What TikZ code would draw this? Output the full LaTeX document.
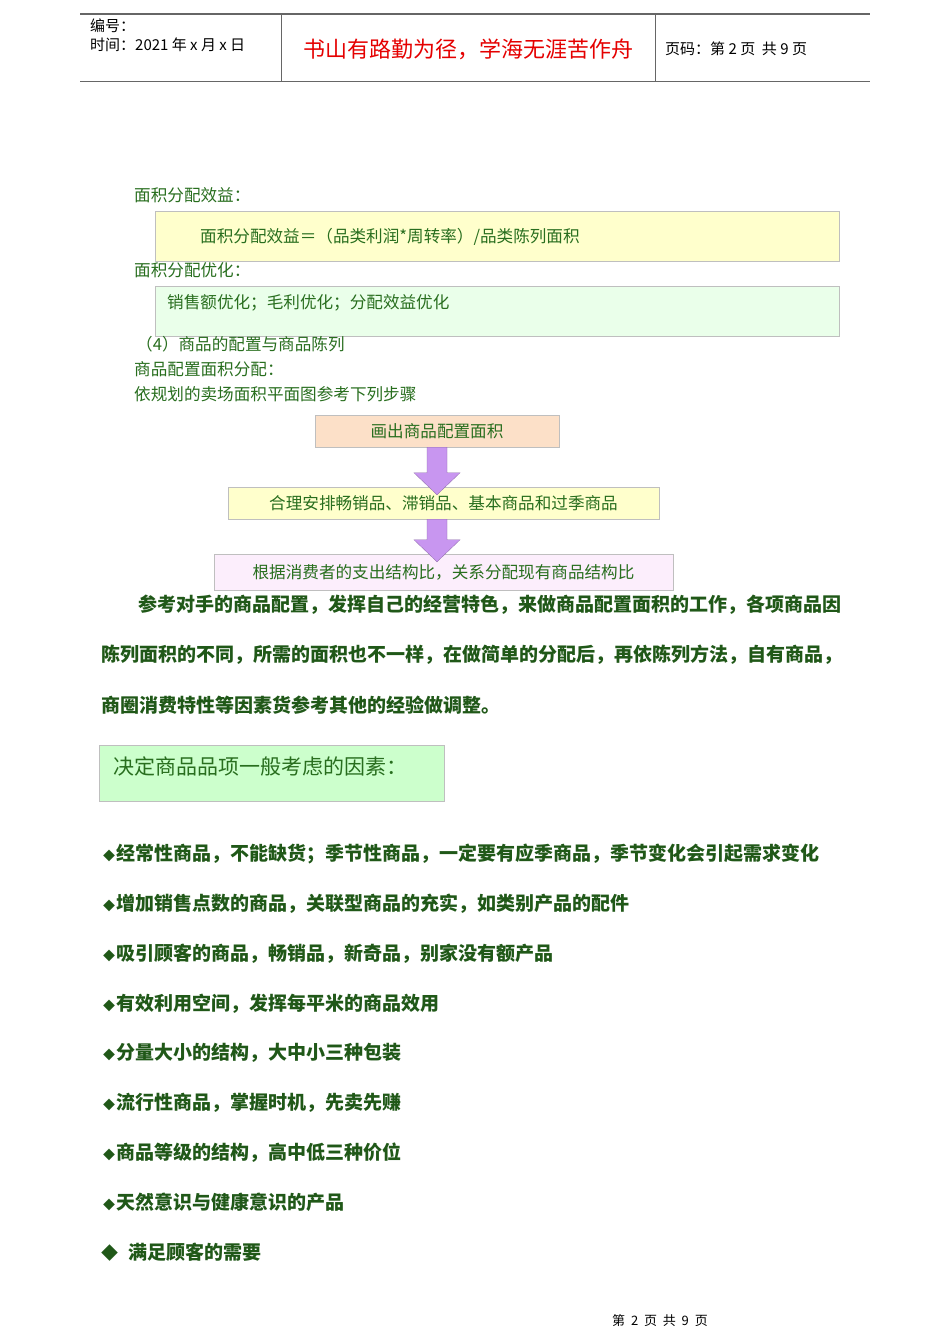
\documentclass[tikz,border=0pt]{standalone}
\usepackage{fontspec}
\setmainfont{Noto Sans CJK SC}
\usepackage{xcolor}
\usetikzlibrary{positioning, calc}
\definecolor{txtgreen}{RGB}{40,110,30}
\definecolor{peach}{RGB}{252,224,200}
\definecolor{lyellow}{RGB}{255,255,204}
\definecolor{lgreen}{RGB}{234,255,234}
\definecolor{lpink}{RGB}{252,238,252}
\definecolor{purplearrow}{RGB}{200,150,240}
\begin{document}
\begin{tikzpicture}[
    x=1pt, y=-1pt,
    plain/.style={anchor=west, inner sep=0pt, text=txtgreen, font=\fontsize{16.6}{18}\selectfont},
    boldline/.style={anchor=west, inner sep=0pt, text=txtgreen!80!black, font=\fontsize{19}{21}\selectfont\bfseries},
    stepbox/.style={draw=black!25, inner sep=0pt, text=txtgreen, font=\fontsize{16.6}{18}\selectfont},
    bullet/.style={anchor=west, inner sep=0pt, text=txtgreen!80!black, font=\fontsize{19}{20}\selectfont\bfseries}
]
\useasboundingbox[fill=white] (0,0) rectangle (950,1344);

% Header
\draw[black!60, line width=1.2pt] (80,14) -- (870,14);
\draw[black!60, line width=1pt] (80,81) -- (870,81);
\draw[black!60] (281,14) -- (281,81) (655,14) -- (655,81);
\node[anchor=west, inner sep=0pt, font=\fontsize{15}{17}\selectfont] (num) at (90,26) {编号：};
\node[anchor=west, inner sep=0pt, font=\fontsize{15}{17}\selectfont] (date) at (90,45) {时间：2021 年 x 月 x 日};
\node[inner sep=0pt, text=red!90!black, font=\fontsize{22}{24}\selectfont] (motto) at (468,49) {书山有路勤为径，学海无涯苦作舟};
\node[anchor=west, inner sep=0pt, font=\fontsize{15}{17}\selectfont] (page) at (665,49) {页码：第 2 页\ \ 共 9 页};

% Area allocation
\node[plain] (benefit) at (134,195) {面积分配效益：};
\draw[black!25, fill=lyellow] (155,211) rectangle (839,261);
\node[plain] (formula) at (200,237) {面积分配效益＝（品类利润*周转率）/品类陈列面积};
\node[plain] (optim) at (134,270) {面积分配优化：};
\draw[black!25, fill=lgreen] (155,286) rectangle (839,336);
\node[plain] (optlist) at (167,303) {销售额优化；毛利优化；分配效益优化};
\node[plain] (sec4) at (136,344) {（4）商品的配置与商品陈列};
\node[plain] (alloc) at (134,369) {商品配置面积分配：};
\node[plain] (steps) at (134,394) {依规划的卖场面积平面图参考下列步骤};

% Steps
\node[stepbox, fill=peach, minimum width=244pt, minimum height=32pt] (draw) at (437,431) {画出商品配置面积};
\node[stepbox, fill=lyellow, minimum width=431pt, minimum height=32pt] (arrange) at (443.5,503) {合理安排畅销品、滞销品、基本商品和过季商品};
\node[stepbox, fill=lpink, minimum width=459pt, minimum height=36pt] (ratio) at (443.5,572) {根据消费者的支出结构比，关系分配现有商品结构比};
\foreach \a/\b in {draw/arrange, arrange/ratio}{
  \fill[purplearrow, draw=purplearrow!70!black, line width=0.3pt]
    ($(draw.south |- \a.south)+(-10,0)$) -- ($(draw.south |- \a.south)+(10,0)$) -- ($(draw.south |- \b.north)+(10,-14)$)
    -- ($(draw.south |- \b.north)+(23,-14)$) -- ($(draw.south |- \b.north)+(0,8)$)
    -- ($(draw.south |- \b.north)+(-23,-14)$) -- ($(draw.south |- \b.north)+(-10,-14)$) -- cycle;
}

% Paragraph
\node[boldline] (para1) at (138,605) {参考对手的商品配置，发挥自己的经营特色，来做商品配置面积的工作，各项商品因};
\node[boldline] (para2) at (101,655) {陈列面积的不同，所需的面积也不一样，在做简单的分配后，再依陈列方法，自有商品，};
\node[boldline] (para3) at (101,705) {商圈消费特性等因素货参考其他的经验做调整。};

% Factors
\draw[black!25, fill=green!20] (99,745) rectangle (444,801);
\node[anchor=west, inner sep=0pt, text=txtgreen, font=\fontsize{21}{23}\selectfont] (factors) at (113,766) {决定商品品项一般考虑的因素：};
\foreach \y/\t in {854/经常性商品，不能缺货；季节性商品，一定要有应季商品，季节变化会引起需求变化,
                   904/增加销售点数的商品，关联型商品的充实，如类别产品的配件,
                   954/吸引顾客的商品，畅销品，新奇品，别家没有额产品,
                   1004/有效利用空间，发挥每平米的商品效用,
                   1053/分量大小的结构，大中小三种包装,
                   1103/流行性商品，掌握时机，先卖先赚,
                   1153/商品等级的结构，高中低三种价位,
                   1202/天然意识与健康意识的产品}{
  \node[bullet] at (103,\y) {{\fontsize{12}{12}\selectfont ◆}\kern1pt\t};
}
\node[bullet] (need) at (101,1252) {{\fontsize{17}{16}\selectfont ◆}\kern10pt 满足顾客的需要};

% Footer
\node[inner sep=0pt, font=\fontsize{13}{14}\selectfont] (footer) at (660,1321) {第\ \ 2\ \ 页\ \ 共\ \ 9\ \ 页};
\end{tikzpicture}
\end{document}
